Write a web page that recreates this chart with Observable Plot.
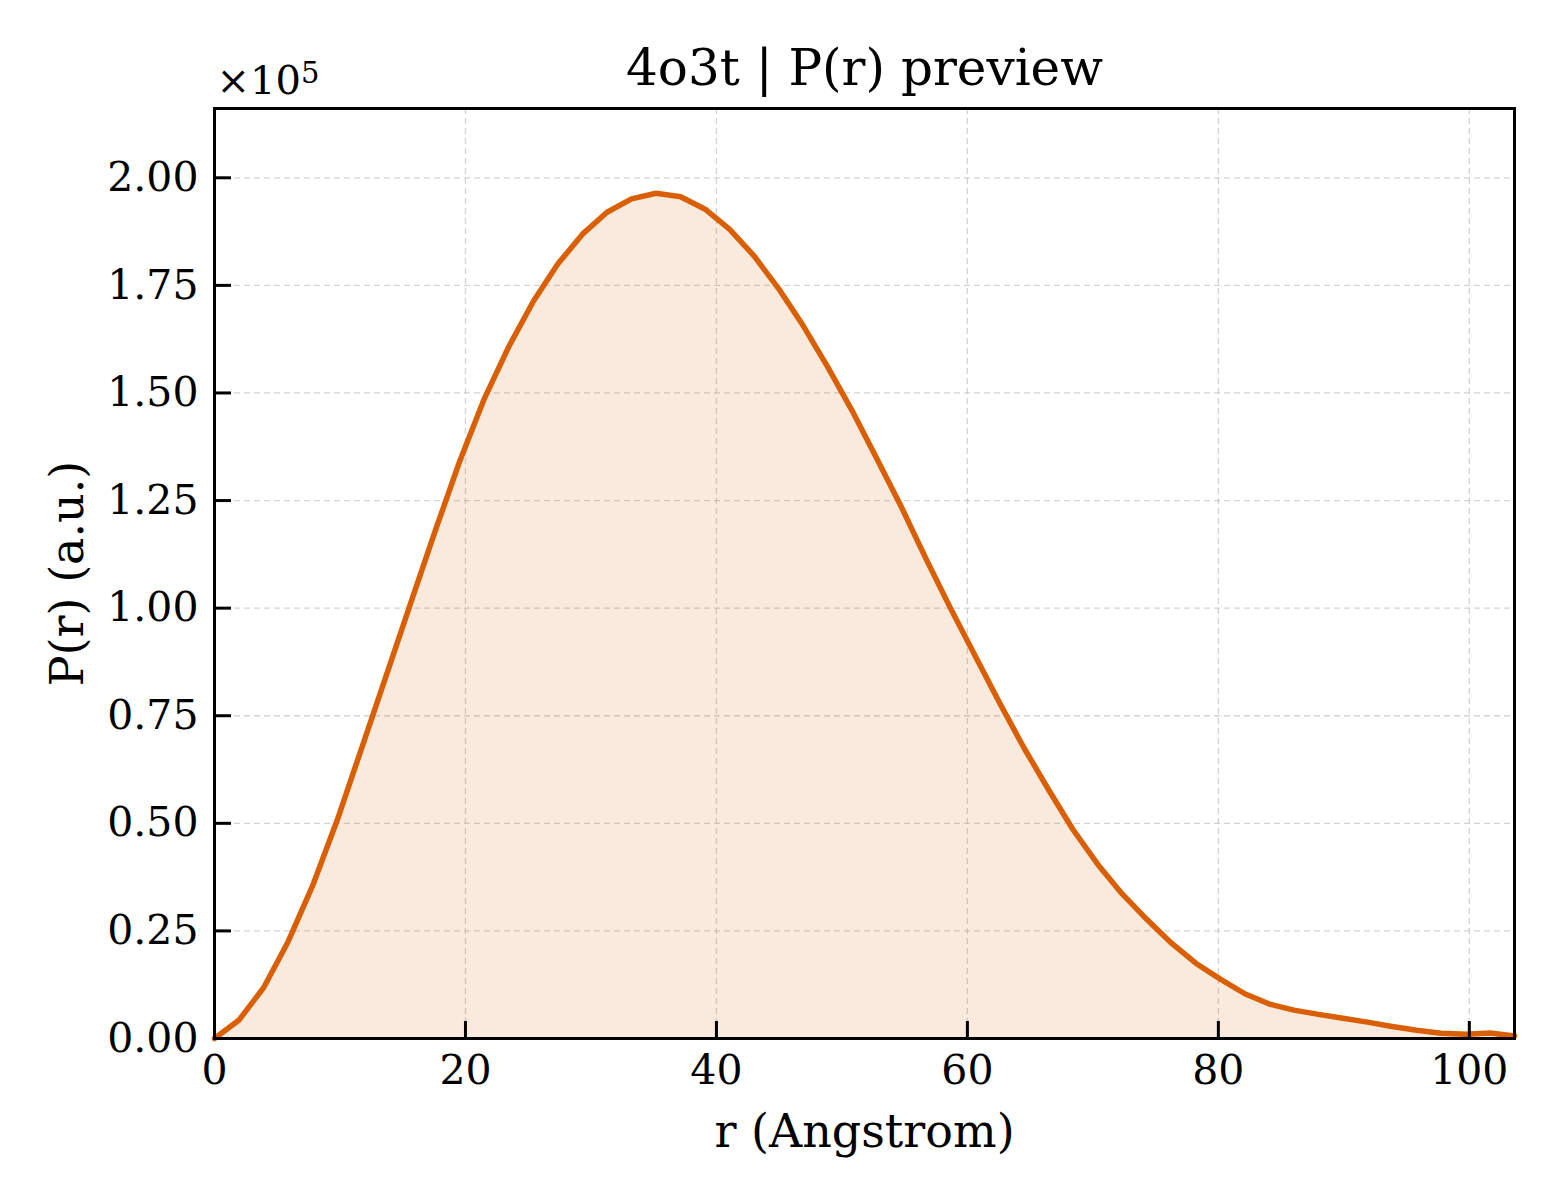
<!DOCTYPE html>
<html>
<head>
<meta charset="utf-8">
<script src="https://cdn.jsdelivr.net/npm/d3@7"></script>
<script src="https://cdn.jsdelivr.net/npm/@observablehq/plot@0.6"></script>
<style>
  html, body { margin: 0; padding: 0; background: #ffffff; }
  #chart { width: 1560px; height: 1200px; }
</style>
</head>
<body>
<div id="chart"></div>
<script>
// Distance r (Angstrom)
const rValues = [0, 1.955, 3.91, 5.865, 7.82, 9.775, 11.73, 13.685, 15.64, 17.595,
  19.55, 21.505, 23.46, 25.415, 27.37, 29.325, 31.28, 33.235, 35.19, 37.145,
  39.1, 41.055, 43.01, 44.965, 46.92, 48.875, 50.83, 52.785, 54.74, 56.695,
  58.65, 60.605, 62.56, 64.515, 66.47, 68.425, 70.38, 72.335, 74.29, 76.245,
  78.2, 80.155, 82.11, 84.065, 86.02, 87.975, 89.93, 91.885, 93.84, 95.795,
  97.75, 99.705, 101.66, 103.6];
// P(r) (a.u.)
const pValues = [0, 4300, 11800, 22500, 35500, 50700, 67500, 84300, 101200, 118000,
  134200, 148700, 160800, 171300, 180000, 186900, 192000, 195100, 196400, 195600,
  192700, 188000, 181800, 174200, 165600, 156000, 145800, 134700, 123500, 111500,
  100000, 89000, 78000, 67500, 57800, 48500, 40500, 33600, 27700, 22200,
  17500, 13800, 10400, 8000, 6600, 5600, 4700, 3800, 2800, 1900,
  1200, 1000, 1300, 600];
const xTicks = [0, 20, 40, 60, 80, 100];
const yTicks = [0, 0.25, 0.5, 0.75, 1.0, 1.25, 1.5, 1.75, 2.0];
const titleText = "4o3t | P(r) preview";
const xLabel = "r (Angstrom)";
const yLabel = "P(r) (a.u.)";
const scaleBase = "×10";
const scaleExp = "5";
const scaleFactor = 1e5;

const data = rValues.map((r, i) => ({r, p: pValues[i] / scaleFactor}));

const W = 1560, H = 1200;
const mL = 214, mR = 46, mT = 108, mB = 162;
const xDomain = [0, 103.6];
const yDomain = [0, 2.161];
const tickLen = 17;
const yTickSpan = yDomain[1] * tickLen / (H - mT - mB);
const xTickSpan = xDomain[1] * tickLen / (W - mL - mR);

const color = "#d95f02";

const chart = Plot.plot({
  width: W,
  height: H,
  marginLeft: mL,
  marginRight: mR,
  marginTop: mT,
  marginBottom: mB,
  style: {fontFamily: "'DejaVu Serif', serif", fontSize: "41px", background: "#ffffff", color: "#000"},
  x: {domain: xDomain, ticks: xTicks, label: null},
  y: {domain: yDomain, ticks: yTicks, label: null},
  marks: [
    Plot.gridX(xTicks, {stroke: "#c8c8c8", strokeOpacity: 0.8, strokeWidth: 1.3, strokeDasharray: "6,4"}),
    Plot.gridY(yTicks, {stroke: "#c8c8c8", strokeOpacity: 0.8, strokeWidth: 1.3, strokeDasharray: "6,4"}),
    Plot.areaY(data, {x: "r", y: "p", fill: color, fillOpacity: 0.13}),
    Plot.lineY(data, {x: "r", y: "p", stroke: color, strokeWidth: 5.5, strokeLinejoin: "round"}),
    // inward ticks
    Plot.ruleX(xTicks, {x: d => d, y1: 0, y2: yTickSpan, stroke: "#000", strokeWidth: 3}),
    Plot.ruleY(yTicks, {y: d => d, x1: 0, x2: xTickSpan, stroke: "#000", strokeWidth: 3}),
    Plot.axisX(xTicks, {tickSize: 0, tickPadding: 16, fontSize: 41, label: null, tickFormat: d => String(d)}),
    Plot.axisY(yTicks, {tickSize: 0, tickPadding: 16, fontSize: 41, label: null, tickFormat: d => d.toFixed(2)}),
    Plot.frame({stroke: "#000", strokeWidth: 3}),
    Plot.text([titleText], {frameAnchor: "top", textAnchor: "middle", dy: -40, fontSize: 50, lineAnchor: "middle"}),
    Plot.text([scaleBase], {frameAnchor: "top-left", textAnchor: "start", dx: 2, dy: -27, fontSize: 40, lineAnchor: "middle", className: "scale-label"}),
    Plot.text([xLabel], {frameAnchor: "bottom", textAnchor: "middle", dy: 94, fontSize: 46, lineAnchor: "middle"}),
    Plot.text([yLabel], {frameAnchor: "left", textAnchor: "middle", dx: -146, rotate: -90, fontSize: 46, lineAnchor: "middle"})
  ]
});
// add the exponent as a raised tspan after the "×10" text
d3.select(chart).selectAll("g.scale-label text").each(function() {
  d3.select(this).append("tspan")
    .attr("dy", "-0.4em")
    .attr("font-size", 29)
    .text(scaleExp);
});
document.getElementById("chart").appendChild(chart);
</script>
</body>
</html>
